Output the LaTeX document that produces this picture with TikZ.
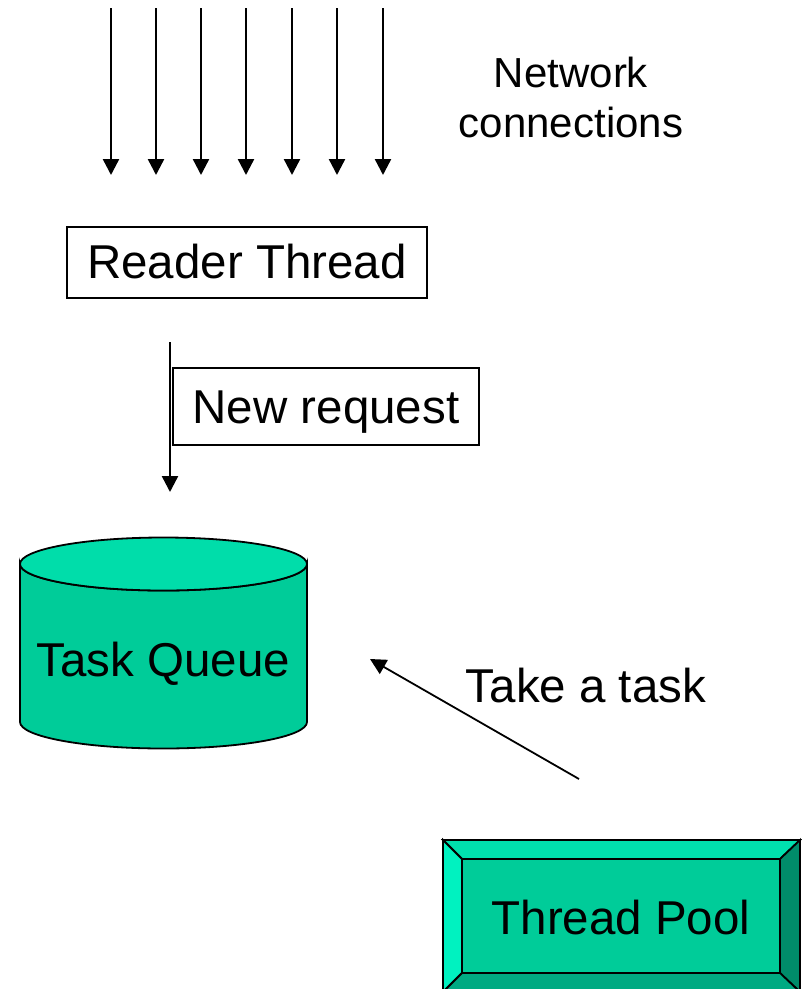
\documentclass[tikz,border=0pt]{standalone}
\usepackage{fontspec}
\setmainfont{Liberation Sans}
\usetikzlibrary{arrows.meta}
\definecolor{qbody}{HTML}{00CC99}
\definecolor{qtop}{HTML}{00DDAA}
\definecolor{bvtop}{HTML}{00E0AE}
\definecolor{bvleft}{HTML}{00F2C0}
\definecolor{bvright}{HTML}{008C6A}
\definecolor{bvbottom}{HTML}{00AA82}
\begin{document}
\begin{tikzpicture}[x=1pt,y=1pt,
  big/.style={font=\fontsize{47.5}{57}\selectfont, inner sep=0pt},
  boxed/.style={draw=black, line width=1.5pt},
  flow/.style={line width=2.4pt, -{Triangle[width=16pt,length=16pt]}},
  bevel/.style={draw=black, line width=1.8pt, line join=miter}]
\useasboundingbox (0,0) rectangle (802,-989);

% incoming network connections
\foreach \i/\x in {1/111,2/156,3/201,4/246,5/292,6/337,7/383}{
  \coordinate (in\i) at (\x,-8);
  \coordinate (out\i) at (\x,-175);
  \draw[flow] (in\i) -- (out\i);
}
\node[font=\fontsize{42}{50}\selectfont, align=center, inner sep=0pt] (net) at (571,-97)
  {Network\\connections};

% reader thread
\draw[boxed] (67,-227) rectangle (427,-298);
\node[big] (reader) at (247,-262) {Reader Thread};

% new request
\coordinate (reqs) at (170,-342);
\coordinate (reqe) at (170,-492);
\draw[flow] (reqs) -- (reqe);
\draw[boxed] (173,-368) rectangle (479,-445);
\node[big] (newreq) at (326,-412) {New request};

% task queue cylinder
\draw[fill=qbody, line width=1.8pt] (20,-564) -- (20,-722)
  arc[start angle=180, end angle=360, x radius=143.5pt, y radius=26.5pt]
  -- (307,-564)
  arc[start angle=0, end angle=-180, x radius=143.5pt, y radius=26.5pt] -- cycle;
\draw[fill=qtop, line width=1.8pt] (163.5,-564) ellipse [x radius=143.5pt, y radius=26.5pt];
\node[big] (queue) at (163.5,-664) {Task Queue};

% taking a task
\coordinate (takes) at (579,-779);
\coordinate (takee) at (370,-659);
\draw[flow, line width=1.8pt] (takes) -- (takee);
\node[big] (take) at (586,-686) {Take a task};

% thread pool bevel button
\coordinate (oTL) at (443,-840);
\coordinate (oTR) at (800,-840);
\coordinate (oBR) at (800,-992);
\coordinate (oBL) at (443,-992);
\coordinate (iTL) at (462,-859);
\coordinate (iTR) at (780,-859);
\coordinate (iBR) at (780,-973);
\coordinate (iBL) at (462,-973);
\draw[bevel, fill=bvtop] (oTL) -- (oTR) -- (iTR) -- (iTL) -- cycle;
\draw[bevel, fill=bvleft] (oTL) -- (iTL) -- (iBL) -- (oBL) -- cycle;
\draw[bevel, fill=bvright] (oTR) -- (oBR) -- (iBR) -- (iTR) -- cycle;
\draw[bevel, fill=bvbottom] (iBL) -- (iBR) -- (oBR) -- (oBL) -- cycle;
\draw[bevel, fill=qbody] (iTL) rectangle (iBR);
\node[big] (pool) at (621,-918) {Thread Pool};
\end{tikzpicture}
\end{document}
